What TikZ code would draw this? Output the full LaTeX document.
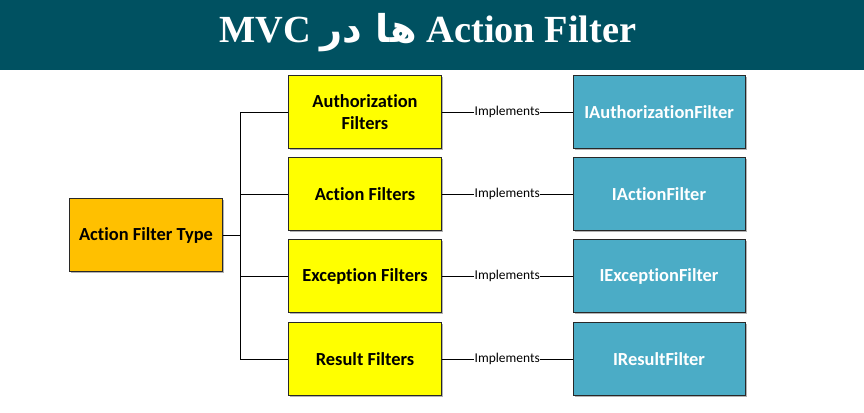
\documentclass[tikz,border=0pt]{standalone}
\usepackage{fontspec}
\setmainfont{Carlito}[Ligatures={NoCommon}]
\newfontfamily\titlefont{Liberation Serif}
\newfontfamily\arabicfont[Script=Arabic]{DejaVu Sans}
\TeXXeTstate=1
\usetikzlibrary{shadows}
\definecolor{headbar}{RGB}{0,81,97}
\definecolor{typefill}{RGB}{255,192,0}
\definecolor{filterfill}{RGB}{255,255,0}
\definecolor{ifacefill}{RGB}{75,172,198}
\definecolor{boxline}{RGB}{40,40,40}
\tikzset{
  box/.style={draw=boxline, line width=0.8bp, minimum width=153bp, minimum height=73bp,
    align=center, font=\bfseries\fontsize{18.5}{22}\selectfont, inner sep=2bp,
    drop shadow={shadow xshift=1.5bp, shadow yshift=-1.5bp, fill=gray, opacity=0.6}},
  typebox/.style={box, fill=typefill},
  filterbox/.style={box, fill=filterfill},
  ifacebox/.style={box, fill=ifacefill, text=white, minimum width=172bp},
  impl/.style={fill=white, inner sep=0.5bp, font=\fontsize{13.5}{15}\selectfont},
}
\begin{document}
\begin{tikzpicture}[x=1bp, y=-1bp]
  \useasboundingbox (0,0) rectangle (864,412);
  \fill[headbar] (0,0) rectangle (864,70);
  \node[text=white] (title) at (428,33)
    {\titlefont\bfseries\fontsize{38.5}{42}\selectfont\beginR\beginL Action Filter\endL{} {\arabicfont ها در} \beginL MVC\endL\endR};
  \draw
    (146,235) node[typebox] (type){Action Filter Type}
    (365,112) node[filterbox] (auth){Authorization\\Filters}
    (365,194) node[filterbox] (action){Action Filters}
    (365,276) node[filterbox] (exception){Exception Filters}
    (365,359) node[filterbox] (result){Result Filters}
    (659,112) node[ifacebox] (iauth){IAuthorizationFilter}
    (659,194) node[ifacebox] (iaction){IActionFilter}
    (659,276) node[ifacebox] (iexception){IExceptionFilter}
    (659,359) node[ifacebox] (iresult){IResultFilter};
  \coordinate (trunk) at (240,235);
  \begin{scope}[line width=0.8bp]
    \draw (type) -- (trunk);
    \draw (auth.west) -- ++(-48,0) |- (result.west);
    \draw (action.west) -- ++(-48,0);
    \draw (exception.west) -- ++(-48,0);
    \draw (auth) -- node[impl]{Implements} (iauth);
    \draw (action) -- node[impl]{Implements} (iaction);
    \draw (exception) -- node[impl]{Implements} (iexception);
    \draw (result) -- node[impl]{Implements} (iresult);
  \end{scope}
\end{tikzpicture}
\end{document}
